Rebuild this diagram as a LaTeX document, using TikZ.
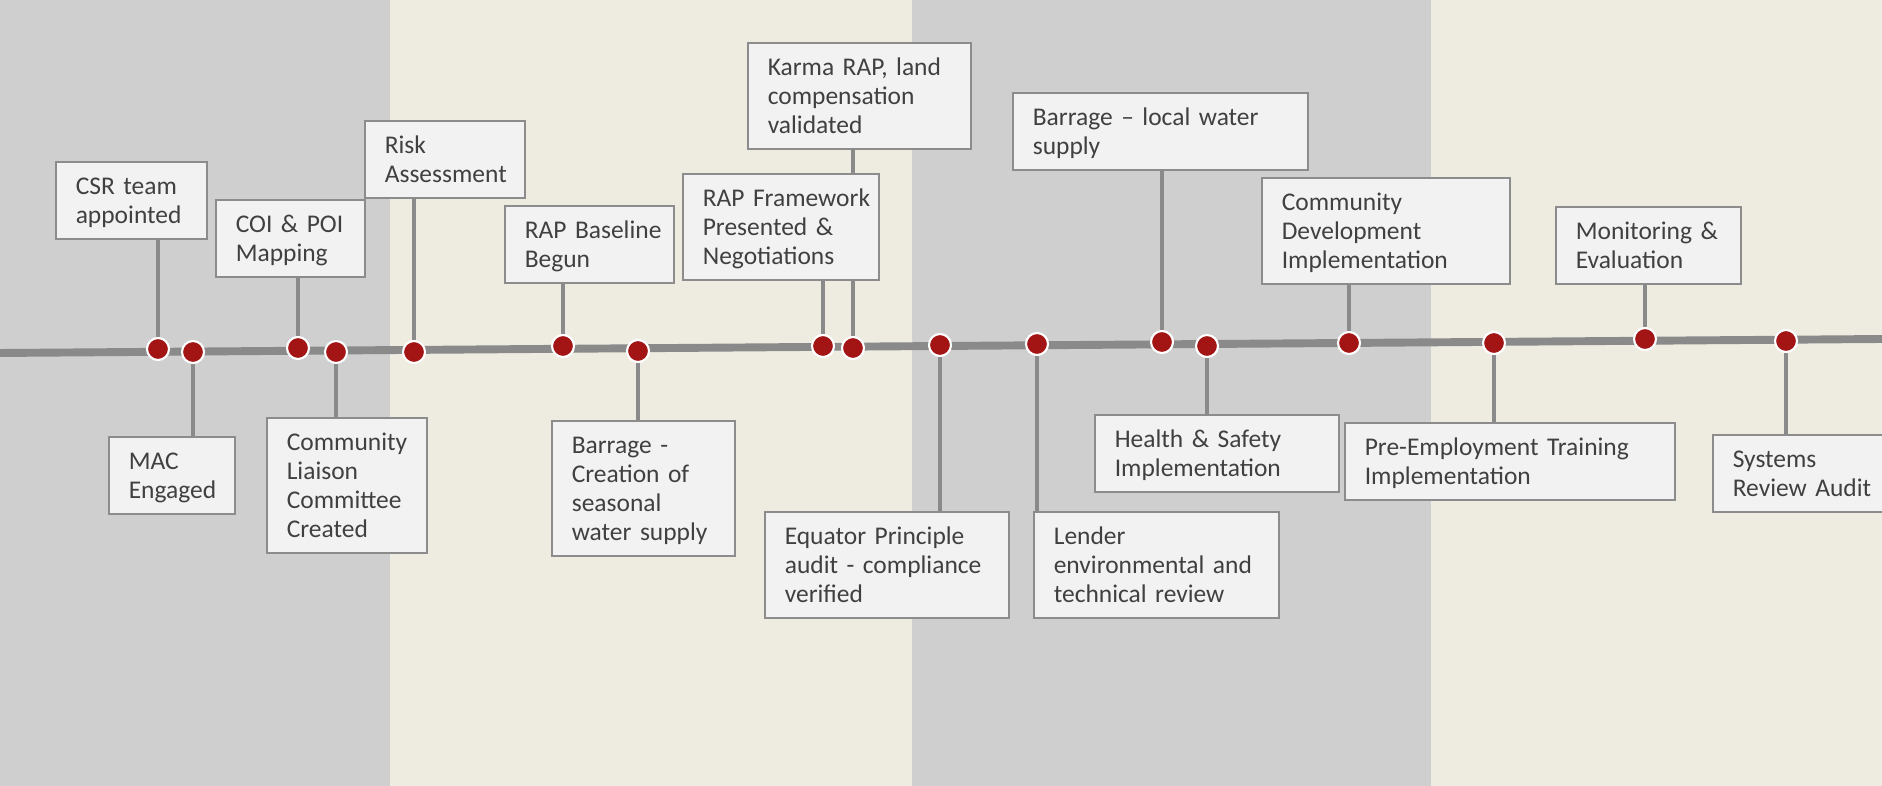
\documentclass[tikz,border=0pt]{standalone}
\usepackage{fontspec}
\setmainfont{Carlito}
\usetikzlibrary{backgrounds}

\definecolor{bandgray}{HTML}{CFCFCF}
\definecolor{bandtan}{HTML}{EEECE1}
\definecolor{boxfill}{HTML}{F2F2F2}
\definecolor{boxline}{HTML}{8C8C8C}
\definecolor{stemgray}{HTML}{8A8A8A}
\definecolor{dotred}{HTML}{A31414}
\definecolor{txtgray}{HTML}{404040}

\hyphenpenalty=10000
\exhyphenpenalty=10000

\newcommand{\topstrut}{\rule{0pt}{14.2pt}}
\newcommand{\botstrut}{\rule[-4pt]{0pt}{4pt}}

\tikzset{
  evbox/.style={draw=boxline, fill=boxfill, line width=0.9pt, anchor=north west, align=left,
    text width=#1, inner xsep=0.4cm, inner ysep=0.16cm, text=txtgray,
    font=\fontsize{14.5}{16.5}\selectfont,
    execute at begin node=\topstrut, execute at end node=\botstrut},
  stemline/.style={draw=stemgray, line width=2.3pt},
  timeline/.style={draw=stemgray, line width=4.5pt},
  milestone/.style={circle, fill=dotred, draw=white, line width=1.2pt, minimum size=0.44cm, inner sep=0pt},
}

\begin{document}
\begin{tikzpicture}[x=0.02cm, y=-0.02cm]
  \useasboundingbox (0,0) rectangle (1882,786);
  \clip (0,0) rectangle (1882,786);

  \node[milestone] (d-csr) at (158,349) {};
  \node[milestone] (d-mac) at (193,352) {};
  \node[milestone] (d-coi) at (298,348) {};
  \node[milestone] (d-liaison) at (336,352) {};
  \node[milestone] (d-risk) at (414,352) {};
  \node[milestone] (d-baseline) at (563,346) {};
  \node[milestone] (d-seasonal) at (638,351) {};
  \node[milestone] (d-framework) at (823,346) {};
  \node[milestone] (d-karma) at (853,348) {};
  \node[milestone] (d-equator) at (940,345) {};
  \node[milestone] (d-lender) at (1037,344) {};
  \node[milestone] (d-localwater) at (1162,342) {};
  \node[milestone] (d-safety) at (1207,346) {};
  \node[milestone] (d-development) at (1349,343) {};
  \node[milestone] (d-training) at (1494,343) {};
  \node[milestone] (d-monitoring) at (1645,339) {};
  \node[milestone] (d-audit) at (1786,341) {};

  \node[evbox=2.22cm] (csr) at (55,161) {CSR~team\\appointed};
  \node[evbox=1.72cm] (mac) at (108,436) {MAC\\Engaged};
  \node[evbox=2.18cm] (coi) at (215,199) {COI~\&~POI\\Mapping};
  \node[evbox=2.40cm] (liaison) at (266,417) {Community\\Liaison\\Committee\\Created};
  \node[evbox=2.40cm] (risk) at (364,120) {Risk\\Assessment};
  \node[evbox=2.58cm] (baseline) at (504,205) {RAP~Baseline\\Begun};
  \node[evbox=2.86cm] (seasonal) at (551,420) {Barrage~-\\Creation~of\\seasonal\\water~supply};
  \node[evbox=3.12cm] (framework) at (682,173) {RAP~Framework\\Presented~\&\\Negotiations};
  \node[evbox=3.66cm] (karma) at (747,42) {Karma~RAP,~land\\compensation\\validated};
  \node[evbox=4.08cm] (equator) at (764,511) {Equator~Principle\\audit~-~compliance\\verified};
  \node[evbox=4.10cm] (lender) at (1033,511) {Lender\\environmental~and\\technical~review};
  \node[evbox=5.10cm] (localwater) at (1012,92) {Barrage~--~local~water\\supply};
  \node[evbox=4.08cm] (safety) at (1094,414) {Health~\&~Safety\\Implementation};
  \node[evbox=4.16cm] (development) at (1261,177) {Community\\Development\\Implementation};
  \node[evbox=5.80cm] (training) at (1344,422) {Pre-Employment~Training\\Implementation};
  \node[evbox=2.90cm] (monitoring) at (1555,206) {Monitoring~\&\\Evaluation};
  \node[evbox=3.20cm] (audit) at (1712,434) {Systems\\Review~Audit};

  \begin{scope}[on background layer]
    \fill[bandgray] (0,0) rectangle (390,786);
    \fill[bandtan] (390,0) rectangle (912,786);
    \fill[bandgray] (912,0) rectangle (1431,786);
    \fill[bandtan] (1431,0) rectangle (1882,786);
    \coordinate (start) at (0,353);
    \coordinate (end) at (1882,339);
    \draw[timeline] (start) -- (end);
    \foreach \m in {csr,coi,risk,baseline,framework,karma,localwater,development,monitoring}
      \draw[stemline] (d-\m) -- (\m.south -| d-\m);
    \foreach \m in {mac,liaison,seasonal,equator,lender,safety,training,audit}
      \draw[stemline] (d-\m) -- (\m.north -| d-\m);
  \end{scope}
\end{tikzpicture}
\end{document}
